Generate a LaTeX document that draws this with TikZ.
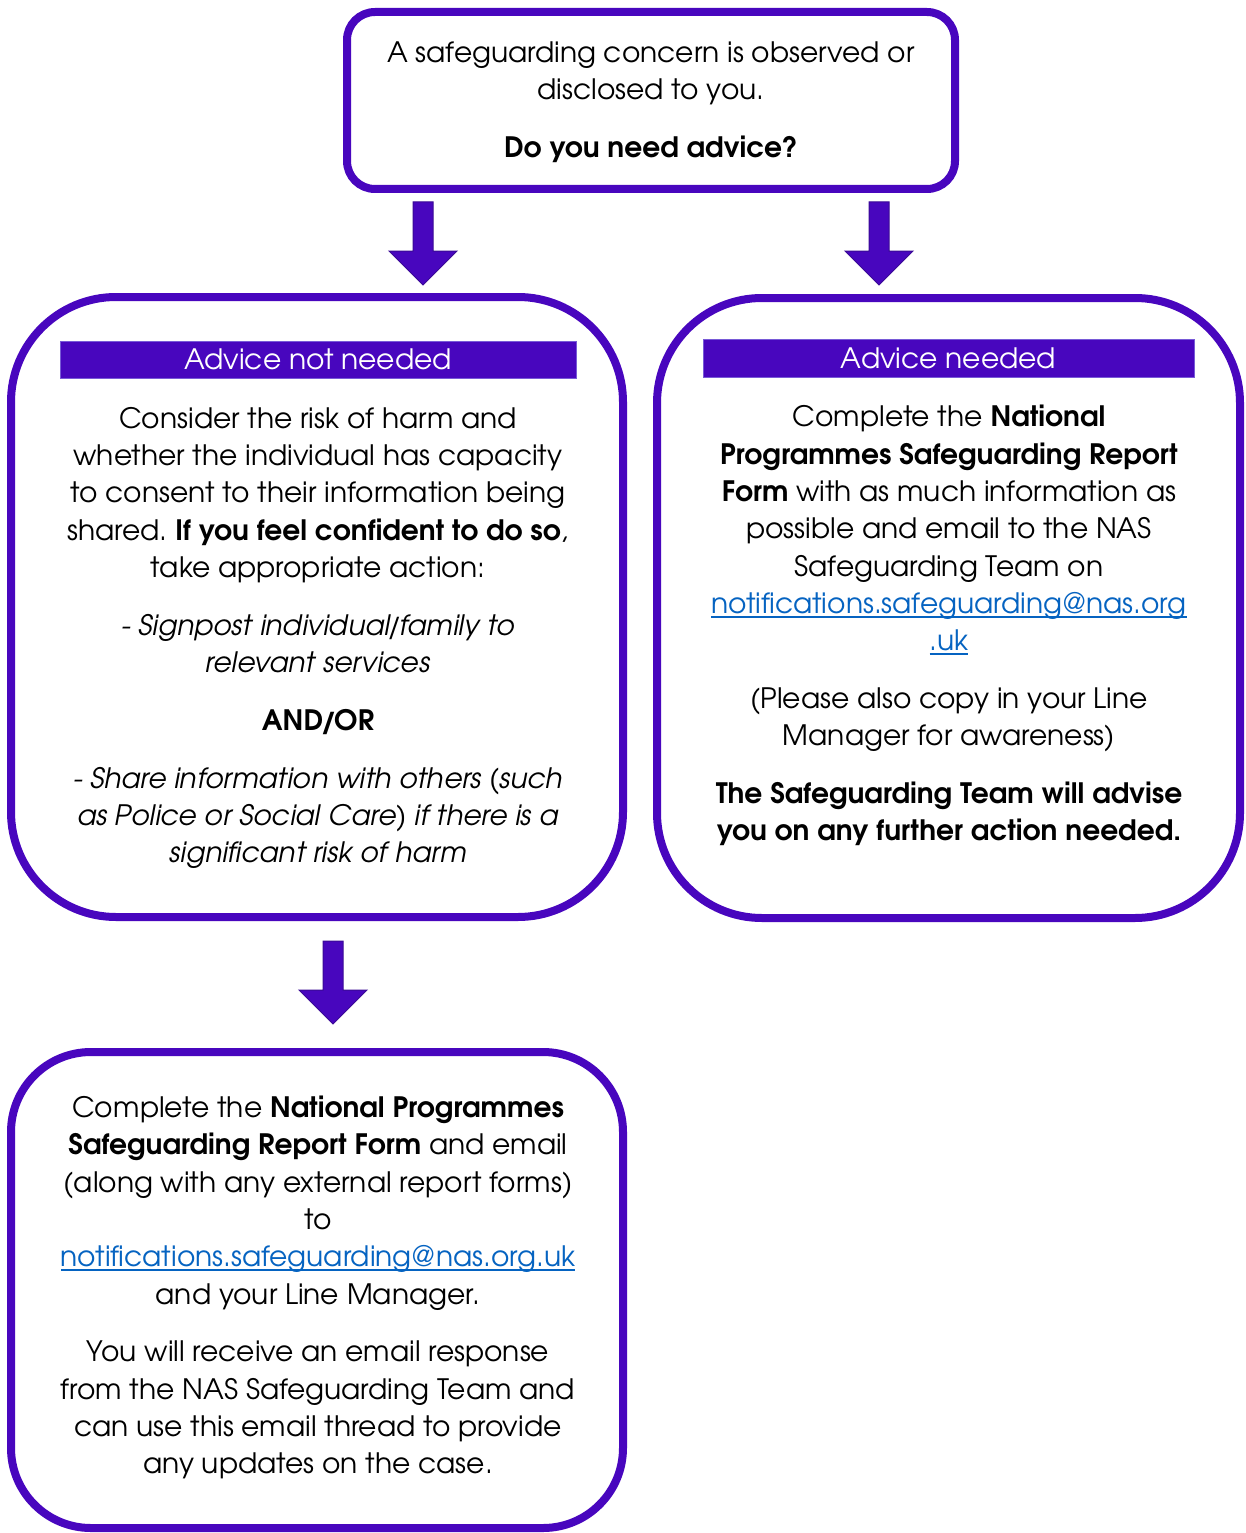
\documentclass[tikz,border=0pt]{standalone}
\usepackage{fontspec}
\setmainfont{texgyreadventor}[Extension=.otf, UprightFont=*-regular, BoldFont=*-bold, ItalicFont=*-italic, BoldItalicFont=*-bolditalic]
\usetikzlibrary{calc}
\frenchspacing
\definecolor{purp}{RGB}{72,6,190}
\definecolor{purpdark}{RGB}{58,10,150}
\definecolor{barline}{RGB}{120,90,215}
\definecolor{linkblue}{RGB}{5,99,193}
\newcommand\mylink[1]{\textcolor{linkblue}{\setbox0\hbox{#1}\rlap{\rule[-4.2pt]{\wd0}{1.6pt}}\box0}}
\newcommand\tslash{\kern-2.5pt/\kern-2.5pt}
\tikzset{
  box/.style={draw=purp, line width=8pt, fill=white, inner sep=0pt},
  bar/.style={fill=purp, draw=barline, line width=0.8pt, inner sep=0pt},
  txt/.style={align=center, inner sep=0pt, anchor=north, text=black,
    font=\fontsize{28.1}{37.3}\selectfont},
  head/.style={anchor=base, inner sep=0pt, text=white,
    font=\fontsize{28.1}{37.3}\selectfont},
  blockarr/.style={fill=purp, draw=purpdark, line width=1pt, line join=miter},
}
\begin{document}
\begin{tikzpicture}[x=1pt,y=-1pt]
\useasboundingbox[fill=white] (0,0) rectangle (1245,1533);

% boxes
\node[box, rounded corners=28pt, minimum width=608pt, minimum height=177pt] (top) at (651,100.5) {};
\node[box, rounded corners=105pt, minimum width=612pt, minimum height=620pt] (left) at (317,607) {};
\node[box, rounded corners=105pt, minimum width=583pt, minimum height=620pt] (right) at (948.5,608) {};
\node[box, rounded corners=80pt, minimum width=612pt, minimum height=476pt] (bottom) at (317,1290) {};

% header bars
\node[bar, minimum width=516pt, minimum height=37pt] (lbar) at (318,359.5) {};
\node[bar, minimum width=491pt, minimum height=38pt] (rbar) at (948.5,358) {};
\node[head] (lhead) at (318,369.5) {Advice not needed};
\node[head] (rhead) at (948.5,368.8) {Advice needed};

% texts
\node[txt] (toptext) at (651,36.3) {\strut A safeguarding concern is observed or\\
disclosed to you.\\[20.3pt]
\textbf{Do you need advice?}};

\node[txt] (lefttext) at (318,401.8) {\strut Consider the risk of harm and\\
whether the individual has capacity\\
to consent to their information being\\
shared. \textbf{If you feel confident to do so},\\
take appropriate action:\\[20.5pt]
\textit{- Signpost individual\tslash family to}\\
\textit{relevant services}\\[20.5pt]
\textbf{AND\tslash OR}\\[20.5pt]
\textit{- Share information with others (such}\\
\textit{as Police or Social Care) if there is a}\\
\textit{significant risk of harm}};

\node[txt] (righttext) at (949,400.5) {\strut Complete the \textbf{National}\\
\textbf{Programmes Safeguarding Report}\\
\textbf{Form} with as much information as\\
possible and email to the NAS\\
Safeguarding Team on\\
\mylink{notifications.safeguarding@nas.org}\\
\mylink{.uk}\\[20.5pt]
(Please also copy in your Line\\
Manager for awareness)\\[20.5pt]
\textbf{The Safeguarding Team will advise}\\
\textbf{you on any further action needed.}};

\node[txt] (bottomtext) at (318,1091.2) {\strut Complete the \textbf{National Programmes}\\
\textbf{Safeguarding Report Form} and email\\
(along with any external report forms)\\
to\\
\mylink{notifications.safeguarding@nas.org.uk}\\
and your Line Manager.\\[20.5pt]
You will receive an email response\\
from the NAS Safeguarding Team and\\
can use this email thread to provide\\
any updates on the case.};

% block arrows
\coordinate (a1) at (423,202);
\coordinate (a2) at (879,202);
\coordinate (a3) at (333,941);
\foreach \c in {a1,a2,a3}{
  \draw[blockarr, shift={(\c)}] (-10,0) -- (-10,49) -- (-34,49) -- (0,83) -- (34,49) -- (10,49) -- (10,0) -- cycle;
}
\end{tikzpicture}
\end{document}
